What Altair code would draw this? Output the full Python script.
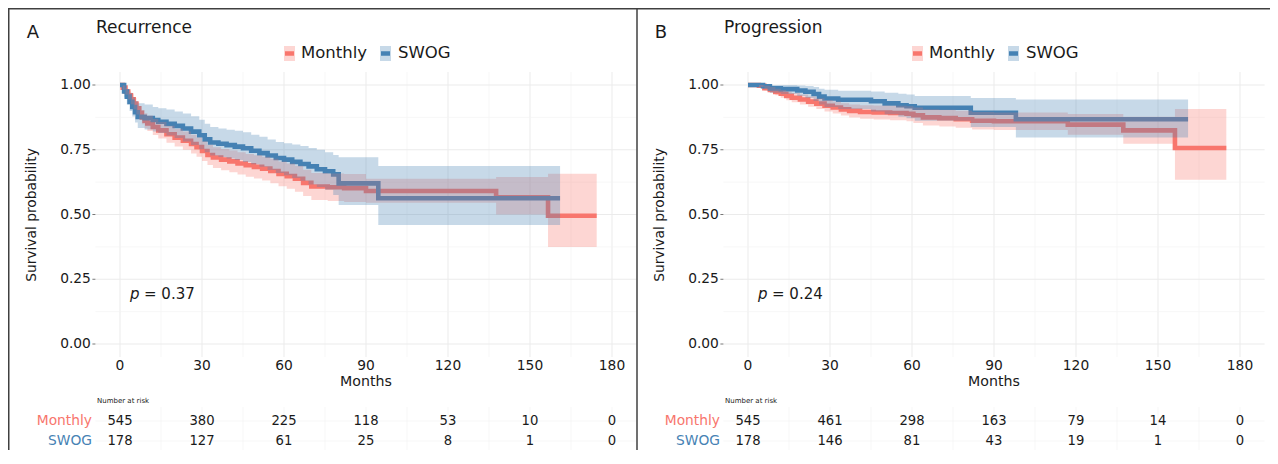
import altair as alt
import pandas as pd

RED = "#F8766D"
BLUE = "#4682B4"
FONT = "DejaVu Sans"

# ---------------- data ----------------
x_ticks = [0, 30, 60, 90, 120, 150, 180]
x_minor = [15, 45, 75, 105, 135, 165]
y_ticks = [0.0, 0.25, 0.5, 0.75, 1.0]
y_tick_labels = ["0.00", "0.25", "0.50", "0.75", "1.00"]
y_minor = [0.125, 0.375, 0.625, 0.875]
groups = ["Monthly", "SWOG"]

# Panel A: Recurrence
a_mon_t = [0, 1, 2, 3, 4, 5, 6, 7, 8, 9, 10, 12, 14, 17, 20, 23, 26, 28, 30, 32, 34,
           37, 40, 43, 46, 49, 52, 55, 58, 61, 64, 67, 70, 76, 82, 90, 137.6, 156.6, 174.4]
a_mon_s = [1.0, 0.99, 0.975, 0.96, 0.945, 0.928, 0.91, 0.893, 0.875, 0.862, 0.852,
           0.838, 0.825, 0.81, 0.797, 0.785, 0.772, 0.76, 0.745, 0.73, 0.72,
           0.712, 0.705, 0.697, 0.69, 0.684, 0.677, 0.668, 0.657, 0.648, 0.638,
           0.622, 0.608, 0.605, 0.602, 0.591, 0.566, 0.495, 0.495]
a_mon_lo = [1.0, 0.982, 0.962, 0.944, 0.926, 0.906, 0.886, 0.867, 0.848, 0.833, 0.822,
            0.807, 0.793, 0.777, 0.763, 0.75, 0.736, 0.723, 0.707, 0.691, 0.68,
            0.671, 0.663, 0.654, 0.646, 0.639, 0.631, 0.621, 0.609, 0.599, 0.588,
            0.571, 0.556, 0.552, 0.548, 0.545, 0.50, 0.375, 0.375]
a_mon_hi = [1.0, 0.998, 0.988, 0.976, 0.964, 0.95, 0.934, 0.919, 0.903, 0.891, 0.882,
            0.869, 0.857, 0.843, 0.831, 0.82, 0.808, 0.797, 0.783, 0.769, 0.76,
            0.753, 0.747, 0.74, 0.734, 0.729, 0.723, 0.715, 0.705, 0.697, 0.688,
            0.673, 0.66, 0.658, 0.656, 0.638, 0.645, 0.657, 0.657]

a_swg_t = [0, 1.5, 2.5, 3.5, 4.5, 5.5, 6.5, 9, 12, 14, 17, 20, 23, 26, 29, 31, 33, 36,
           39, 42, 45, 48, 51, 54, 57, 60, 63, 66, 69, 72, 75, 78, 80, 94.5, 161]
a_swg_s = [1.0, 0.975, 0.955, 0.935, 0.915, 0.895, 0.877, 0.872, 0.865, 0.858, 0.85,
           0.842, 0.832, 0.82, 0.806, 0.79, 0.778, 0.773, 0.768, 0.762, 0.756, 0.746,
           0.737, 0.728, 0.718, 0.712, 0.703, 0.695, 0.686, 0.675, 0.667, 0.655,
           0.62, 0.5625, 0.5625]
a_swg_lo = [1.0, 0.952, 0.925, 0.9, 0.878, 0.855, 0.834, 0.828, 0.82, 0.815, 0.805,
            0.795, 0.782, 0.768, 0.752, 0.74, 0.728, 0.722, 0.716, 0.71, 0.703, 0.694,
            0.684, 0.672, 0.66, 0.652, 0.641, 0.63, 0.616, 0.606, 0.596, 0.575,
            0.537, 0.459, 0.459]
a_swg_hi = [1.0, 0.998, 0.985, 0.97, 0.953, 0.938, 0.93, 0.925, 0.915, 0.91, 0.905,
            0.898, 0.89, 0.879, 0.866, 0.85, 0.838, 0.832, 0.827, 0.823, 0.818, 0.808,
            0.8, 0.79, 0.78, 0.775, 0.77, 0.764, 0.757, 0.75, 0.74, 0.73,
            0.721, 0.687, 0.687]

a_risk_mon = [545, 380, 225, 118, 53, 10, 0]
a_risk_swg = [178, 127, 61, 25, 8, 1, 0]

# Panel B: Progression
b_mon_t = [0, 4, 6, 8, 10, 12, 14, 16, 19, 22, 25, 28, 31, 34, 37, 41, 46, 52, 58,
           60.5, 64, 70, 76, 82, 90, 117, 137.3, 156.2, 175]
b_mon_s = [1.0, 0.997, 0.988, 0.981, 0.973, 0.966, 0.958, 0.951, 0.944, 0.936,
           0.928, 0.92, 0.913, 0.906, 0.9, 0.896, 0.894, 0.892, 0.889, 0.883,
           0.875, 0.872, 0.868, 0.862, 0.86, 0.847, 0.825, 0.757, 0.757]
b_mon_lo = [1.0, 0.992, 0.979, 0.97, 0.96, 0.951, 0.941, 0.933, 0.925, 0.916,
            0.907, 0.898, 0.89, 0.882, 0.875, 0.87, 0.867, 0.864, 0.86, 0.853,
            0.844, 0.84, 0.835, 0.828, 0.826, 0.808, 0.773, 0.634, 0.634]
b_mon_hi = [1.0, 1.0, 0.997, 0.992, 0.986, 0.981, 0.975, 0.969, 0.963, 0.956,
            0.949, 0.942, 0.936, 0.93, 0.925, 0.922, 0.921, 0.92, 0.918, 0.913,
            0.906, 0.904, 0.901, 0.896, 0.894, 0.888, 0.877, 0.907, 0.907]

b_swg_t = [0, 5.5, 8, 12, 18, 21, 24, 26, 28, 33, 45, 50, 55, 58, 61, 81.5, 98, 161]
b_swg_s = [1.0, 0.995, 0.987, 0.984, 0.979, 0.974, 0.965, 0.955, 0.948, 0.943,
           0.937, 0.929, 0.922, 0.918, 0.912, 0.893, 0.868, 0.868]
b_swg_lo = [1.0, 0.985, 0.97, 0.965, 0.958, 0.95, 0.938, 0.925, 0.915, 0.907,
            0.898, 0.887, 0.877, 0.872, 0.862, 0.838, 0.797, 0.797]
b_swg_hi = [1.0, 1.0, 1.0, 1.0, 0.998, 0.996, 0.992, 0.986, 0.982, 0.978,
            0.975, 0.97, 0.966, 0.963, 0.958, 0.95, 0.944, 0.944]

b_risk_mon = [545, 461, 298, 163, 79, 14, 0]
b_risk_swg = [178, 146, 81, 43, 19, 1, 0]

# ---------------- layout helpers ----------------
W, H = 1262, 442
Y_SCALE = alt.Scale(domain=[0, 1], range=[336, 77])
GRID_Y0, GRID_Y1 = 64, 349


def txt(label, x, y, size, color="#1a1a1a", align="left", style="normal", angle=0):
    props = dict(align=align, baseline="middle", fontSize=size, font=FONT, color=color)
    if style != "normal":
        props["fontStyle"] = style
    if angle:
        props["angle"] = angle
    return alt.Chart(pd.DataFrame({"label": [label]})).mark_text(**props).encode(
        text="label:N", x=alt.value(x), y=alt.value(y))


def panel(ox, xr, title, letter, pval, mon, swg, risk_mon, risk_swg):
    xs = alt.Scale(domain=[0, 180], range=xr)
    gx0, gx1 = xr[0] - 9 * (xr[1] - xr[0]) / 180, xr[1] + 9 * (xr[1] - xr[0]) / 180
    X = lambda f: alt.X(f, scale=xs, axis=None)
    Y = lambda f: alt.Y(f, scale=Y_SCALE, axis=None)
    L = []
    # grid
    L.append(alt.Chart(pd.DataFrame({"t": x_minor})).mark_rule(color="#F3F3F3", strokeWidth=0.7)
             .encode(x=X("t:Q"), y=alt.value(GRID_Y0), y2=alt.value(GRID_Y1)))
    L.append(alt.Chart(pd.DataFrame({"t": x_ticks})).mark_rule(color="#EBEBEB", strokeWidth=1)
             .encode(x=X("t:Q"), y=alt.value(GRID_Y0), y2=alt.value(GRID_Y1)))
    L.append(alt.Chart(pd.DataFrame({"v": y_minor})).mark_rule(color="#F3F3F3", strokeWidth=0.7)
             .encode(y=Y("v:Q"), x=alt.value(gx0), x2=alt.value(gx1)))
    L.append(alt.Chart(pd.DataFrame({"v": y_ticks})).mark_rule(color="#EBEBEB", strokeWidth=1)
             .encode(y=Y("v:Q"), x=alt.value(gx0), x2=alt.value(gx1)))
    # risk table grid
    L.append(alt.Chart(pd.DataFrame({"t": x_ticks + x_minor})).mark_rule(color="#F4F4F4", strokeWidth=0.7)
             .encode(x=X("t:Q"), y=alt.value(399), y2=alt.value(442)))
    for yy in (413, 433):
        L.append(alt.Chart(pd.DataFrame({"k": [1]})).mark_rule(color="#F4F4F4", strokeWidth=0.7)
                 .encode(y=alt.value(yy), x=alt.value(gx0), x2=alt.value(gx1)))
    # curves
    dfs = []
    for (t, s, lo, hi), col in ((mon, RED), (swg, BLUE)):
        df = pd.DataFrame({"t": t, "s": s, "lo": lo, "hi": hi})
        dfs.append((df, col))
        L.append(alt.Chart(df).mark_line(interpolate="step-after", color=col, strokeWidth=4.6)
                 .encode(x=X("t:Q"), y=Y("s:Q")))
    for df, col in dfs:
        L.append(alt.Chart(df).mark_area(interpolate="step-after", color=col, opacity=0.3)
                 .encode(x=X("t:Q"), y=Y("lo:Q"), y2="hi:Q"))
    # y axis
    L.append(alt.Chart(pd.DataFrame({"v": y_ticks, "lab": y_tick_labels}))
             .mark_text(align="right", baseline="middle", fontSize=13.8, font=FONT, color="#1a1a1a")
             .encode(y=Y("v:Q"), x=alt.value(gx0 - 4.5), text="lab:N"))
    L.append(alt.Chart(pd.DataFrame({"v": y_ticks})).mark_rule(color="#555555", strokeWidth=0.8)
             .encode(y=Y("v:Q"), x=alt.value(gx0 - 3), x2=alt.value(gx0)))
    # x axis
    L.append(alt.Chart(pd.DataFrame({"t": x_ticks, "lab": [str(v) for v in x_ticks]}))
             .mark_text(align="center", baseline="middle", fontSize=13.8, font=FONT, color="#1a1a1a")
             .encode(x=X("t:Q"), y=alt.value(358), text="lab:N"))
    L.append(txt("Months", (xr[0] + xr[1]) / 2, 374, 14.2, align="center"))
    L.append(txt("Survival probability", ox + 24, 207, 13.8, align="center", angle=270))
    # titles
    L.append(txt(letter, ox + 25, 25, 18, align="center"))
    L.append(txt(title, ox + 88, 20, 17))
    # p-value
    L.append(txt("p", ox + 122, 286, 15, style="italic"))
    L.append(txt("= " + pval, ox + 136, 286, 15))
    # legend
    for kx, lx, name, col in ((ox + 276, ox + 293, "Monthly", RED), (ox + 372, ox + 390, "SWOG", BLUE)):
        L.append(alt.Chart(pd.DataFrame({"k": [1]})).mark_rect(color=col, opacity=0.3)
                 .encode(x=alt.value(kx), x2=alt.value(kx + 11), y=alt.value(38), y2=alt.value(53)))
        L.append(alt.Chart(pd.DataFrame({"k": [1]})).mark_rule(color=col, strokeWidth=4.5)
                 .encode(x=alt.value(kx + 1), x2=alt.value(kx + 10), y=alt.value(45.5)))
        L.append(txt(name, lx, 45, 16.5))
    # risk table
    L.append(txt("Number at risk", ox + 89, 393, 7))
    for yy, vals, name, col in ((413, risk_mon, "Monthly", RED), (433, risk_swg, "SWOG", BLUE)):
        L.append(alt.Chart(pd.DataFrame({"t": x_ticks, "n": [str(v) for v in vals]}))
                 .mark_text(align="center", baseline="middle", fontSize=13.2, font=FONT, color="#1a1a1a")
                 .encode(x=X("t:Q"), y=alt.value(yy), text="n:N"))
        L.append(txt(name, ox + 84, yy, 13.8, color=col, align="right"))
    return L


layers = []
layers += panel(0, [112, 604], "Recurrence", "A", "0.37",
                (a_mon_t, a_mon_s, a_mon_lo, a_mon_hi),
                (a_swg_t, a_swg_s, a_swg_lo, a_swg_hi), a_risk_mon, a_risk_swg)
layers += panel(628, [740, 1232], "Progression", "B", "0.24",
                (b_mon_t, b_mon_s, b_mon_lo, b_mon_hi),
                (b_swg_t, b_swg_s, b_swg_lo, b_swg_hi), b_risk_mon, b_risk_swg)

# frame
frame = pd.DataFrame({"k": [1]})
layers.append(alt.Chart(frame).mark_rule(color="#404040", strokeWidth=1.5)
              .encode(x=alt.value(0.75), y=alt.value(0), y2=alt.value(H)))
layers.append(alt.Chart(frame).mark_rule(color="#404040", strokeWidth=1.5)
              .encode(y=alt.value(0.75), x=alt.value(0), x2=alt.value(W)))
layers.append(alt.Chart(frame).mark_rule(color="#404040", strokeWidth=1.5)
              .encode(x=alt.value(629), y=alt.value(0), y2=alt.value(H)))

chart = (alt.layer(*layers)
         .resolve_scale(x="independent", y="independent")
         .properties(width=W, height=H, padding=0,
                     autosize=alt.AutoSizeParams(type="none"))
         .configure_view(stroke="transparent"))

chart.save("out.html", embed_options={"renderer": "svg", "actions": False})
